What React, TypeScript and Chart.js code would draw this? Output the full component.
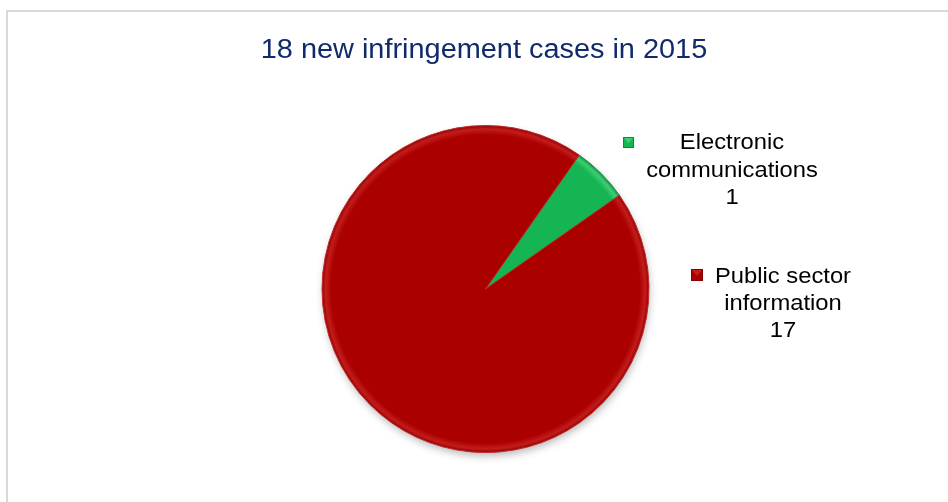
import React, { useEffect, useRef } from "react";
import { Chart, registerables } from "chart.js";

Chart.register(...registerables);

const titleText = "18 new infringement cases in 2015";
const categories = ["Electronic communications", "Public sector information"];
const labelLines = [
  ["Electronic", "communications"],
  ["Public sector", "information"],
];
const values = [1, 17];
const baseColors = ["#14b552", "#aa0000"];
const lightColors = ["#3fcd74", "#c41c1c"];
const darkColors = ["#0a8a3a", "#850000"];

const FONT = '"Liberation Sans", Arial, sans-serif';

function drawScaledText(ctx: CanvasRenderingContext2D, text: string, cx: number, baseline: number, sx: number) {
  ctx.save();
  ctx.translate(cx, baseline);
  ctx.scale(sx, 1);
  ctx.textAlign = "center";
  ctx.textBaseline = "alphabetic";
  ctx.fillText(text, 0, 0);
  ctx.restore();
}

const decorPlugin = {
  id: "decor",
  beforeDraw(chart: any) {
    const ctx = chart.ctx as CanvasRenderingContext2D;
    ctx.save();
    ctx.fillStyle = "#ffffff";
    ctx.fillRect(0, 0, chart.width, chart.height);
    ctx.strokeStyle = "#d9d9d9";
    ctx.lineWidth = 2;
    ctx.strokeRect(7, 11, chart.width + 20, chart.height + 20);
    ctx.restore();
  },
  beforeDatasetsDraw(chart: any) {
    const meta = chart.getDatasetMeta(0);
    const arc = meta.data[0];
    if (!arc) return;
    const ctx = chart.ctx as CanvasRenderingContext2D;
    const { x, y, outerRadius } = arc.getProps(["x", "y", "outerRadius"], true);
    ctx.save();
    ctx.shadowColor = "rgba(0,0,0,0.3)";
    ctx.shadowBlur = 9;
    ctx.shadowOffsetX = 1;
    ctx.shadowOffsetY = 4;
    ctx.fillStyle = baseColors[1];
    ctx.beginPath();
    ctx.arc(x, y, outerRadius - 1, 0, Math.PI * 2);
    ctx.fill();
    ctx.restore();
  },
  afterDraw(chart: any) {
    const ctx = chart.ctx as CanvasRenderingContext2D;
    ctx.save();
    ctx.fillStyle = "#112a6c";
    ctx.font = `27px ${FONT}`;
    drawScaledText(ctx, titleText, 484, 58, 1.07);

    const legendItems = [
      { box: [623, 137, 11], cx: 732, baselines: [149, 177, 204] },
      { box: [691, 269, 12], cx: 783, baselines: [283, 310, 337] },
    ];
    legendItems.forEach((it, i) => {
      const [bx, by, bs] = it.box;
      ctx.fillStyle = baseColors[i];
      ctx.fillRect(bx, by, bs, bs);
      ctx.fillStyle = lightColors[i];
      ctx.beginPath();
      ctx.moveTo(bx + 1, by + 1);
      ctx.lineTo(bx + bs - 1, by + 1);
      ctx.lineTo(bx + bs / 2, by + bs / 2 + 1);
      ctx.closePath();
      ctx.fill();
      ctx.strokeStyle = darkColors[i];
      ctx.lineWidth = 1;
      ctx.strokeRect(bx + 0.5, by + 0.5, bs - 1, bs - 1);

      ctx.fillStyle = "#000000";
      ctx.font = `22px ${FONT}`;
      const lines = [...labelLines[i], String(values[i])];
      lines.forEach((ln, k) => drawScaledText(ctx, ln, it.cx, it.baselines[k], 1.08));
    });
    ctx.restore();
  },
};

function sliceFill(context: any) {
  const i = context.dataIndex ?? 0;
  const chart = context.chart;
  const a = chart.chartArea;
  if (!a || !chart.ctx) return baseColors[i];
  const cx = (a.left + a.right) / 2;
  const cy = (a.top + a.bottom) / 2;
  const r = Math.min(a.width, a.height) / 2;
  const g = chart.ctx.createRadialGradient(cx, cy, 0, cx, cy, r);
  g.addColorStop(0, baseColors[i]);
  g.addColorStop(0.94, baseColors[i]);
  g.addColorStop(0.975, lightColors[i]);
  g.addColorStop(1, darkColors[i]);
  return g;
}

export default function App() {
  const ref = useRef<HTMLCanvasElement | null>(null);
  useEffect(() => {
    if (!ref.current) return;
    const chart = new Chart(ref.current, {
      type: "pie",
      data: {
        labels: categories,
        datasets: [
          {
            data: values,
            backgroundColor: sliceFill as any,
            borderColor: ["#0e9a44", "#c42a2a"],
            borderWidth: 1,
          },
        ],
      },
      options: {
        animation: false,
        responsive: false,
        rotation: 35,
        layout: { padding: { left: 321, right: 298, top: 125, bottom: 49 } },
        plugins: {
          legend: { display: false },
          title: { display: false },
          tooltip: { enabled: false },
        },
      },
      plugins: [decorPlugin],
    });
    return () => chart.destroy();
  }, []);
  return (
    <div style={{ position: "fixed", left: 0, top: 0, width: 948, height: 502, background: "#fff" }}>
      <canvas ref={ref} width={948} height={502} />
    </div>
  );
}
